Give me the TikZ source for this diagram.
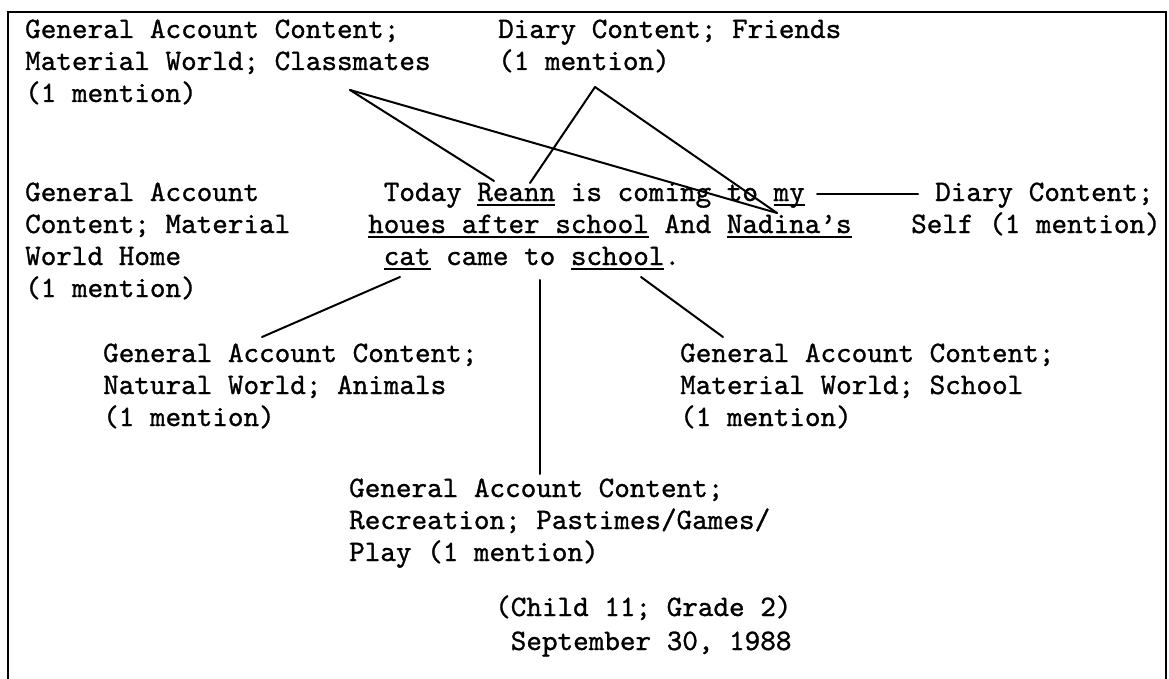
\documentclass[tikz,border=0pt]{standalone}
\usepackage{fontspec}
\newfontfamily\tw{lmmono10-regular.otf}[FakeBold=1]
\newcommand\tul[1]{\setbox0\hbox{#1}\rlap{\rule[-4.5pt]{\wd0}{1.8pt}}\box0\relax}
\begin{document}
\begin{tikzpicture}[x=1pt,y=-1pt,
  txt/.style={inner sep=0pt, anchor=base west, align=left,
    font=\tw\fontsize{29.7}{32}\selectfont},
  conn/.style={line width=2pt, line cap=round}]
\useasboundingbox (0,0) rectangle (1169,679);
\draw[line width=2pt] (8,679) -- (8,12) -- (1166,12) -- (1166,679);

% base anchor = baseline of the LAST line of each node
\node[txt] (gcls) at (25,102) {General Account Content;\\Material World; Classmates\\(1 mention)};
\node[txt] (dfr) at (498,70) {Diary Content; Friends\\(1 mention)};
\node[txt] (ghome) at (25,297) {General Account\\Content; Material\\World Home\\(1 mention)};
\node[txt] (main) at (368,265) {\hphantom{x}Today \tul{Reann} is coming to \tul{my}\\\tul{houes after school} And \tul{Nadina’s}\\\hphantom{x}\tul{cat} came to \tul{school}.};
\node[txt] (dself) at (935,201) {Diary Content;};
\node[txt] (dself2) at (911,233) {Self (1 mention)};
\node[txt] (gani) at (103,426) {General Account Content;\\Natural World; Animals\\(1 mention)};
\node[txt] (gsch) at (680,426) {General Account Content;\\Material World; School\\(1 mention)};
\node[txt] (grec) at (349,561) {General Account Content;\\Recreation; Pastimes/Games/\\Play (1 mention)};
\node[txt] (child) at (495,650) {(Child 11; Grade 2)\\[2pt]\hphantom{x}September 30, 1988};

\coordinate (clsA) at (350,90);
\coordinate (frA) at (595,87);
\coordinate (reannL) at (494,181);
\coordinate (reannR) at (530,183);
\coordinate (nad) at (777,213);
\coordinate (myR) at (817,194);
\coordinate (selfL) at (918,194);
\coordinate (catB) at (400,277);
\coordinate (aniT) at (262,337);
\coordinate (midT) at (540,280);
\coordinate (midB) at (540,474);
\coordinate (schB) at (641,277);
\coordinate (schT) at (723,337);

\draw[conn] (clsA) -- (reannL);
\draw[conn] (clsA) -- (nad);
\draw[conn] (frA) -- (reannR);
\draw[conn] (frA) -- (nad);
\draw[conn] (myR) -- (selfL);
\draw[conn] (catB) -- (aniT);
\draw[conn] (midT) -- (midB);
\draw[conn] (schB) -- (schT);
\end{tikzpicture}
\end{document}
